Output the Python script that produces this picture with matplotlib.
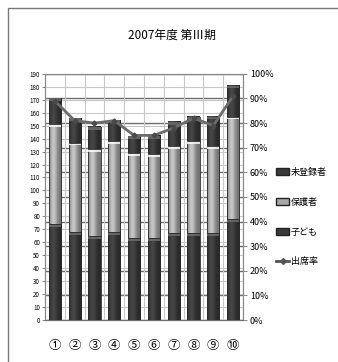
import numpy as np
import matplotlib.pyplot as plt
from matplotlib.patches import Patch, Rectangle
from matplotlib.lines import Line2D

plt.rcParams['font.family'] = ['Noto Sans CJK JP', 'DejaVu Sans']

# 各回の人数（人）と出席率
kai = ['①', '②', '③', '④', '⑤', '⑥', '⑦', '⑧', '⑨', '⑩']
kodomo = [74, 68, 65, 68, 63, 63, 67, 67, 67, 78]
hogosha = [77, 69, 67, 70, 66, 65, 67, 71, 67, 79]
mitouroku = [20, 19, 17, 16, 13, 14, 19, 19, 23, 24]
shusseki = [0.89, 0.81, 0.80, 0.81, 0.75, 0.75, 0.78, 0.82, 0.79, 0.91]

c_dark = np.array([0.21, 0.21, 0.21])
c_light = np.array([0.60, 0.60, 0.60])
w = 0.62

fig = plt.figure(figsize=(3.38, 3.62), dpi=100)
ax = fig.add_axes([0.133, 0.116, 0.586, 0.680])
ax2 = ax.twinx()

# 円柱っぽい陰影
prof = np.linspace(0, 1, 40)
shade = 0.75 + 0.55 * np.exp(-((prof - 0.35) / 0.3) ** 2)

def seg(x, bottom, h, base):
    img = np.clip(base[None, None, :] * shade[None, :, None], 0, 1)
    img = np.repeat(img, 2, axis=0)
    ax.imshow(img, extent=[x - w / 2, x + w / 2, bottom, bottom + h],
              aspect='auto', zorder=3, interpolation='bilinear')
    ax.add_patch(Rectangle((x - w / 2, bottom), w, h, fill=False,
                           edgecolor='#2a2a2a', lw=0.6, zorder=4))
    # 上端のハイライト
    cap = np.clip(base * 1.6 + 0.1, 0, 1)
    ax.add_patch(Rectangle((x - w / 2, bottom + h - 2.2), w, 2.2,
                           facecolor=cap, edgecolor='none', alpha=0.8, zorder=4))

x = np.arange(len(kai))
for i in range(len(kai)):
    seg(x[i], 0, kodomo[i], c_dark)
    seg(x[i], kodomo[i], hogosha[i], c_light)
    seg(x[i], kodomo[i] + hogosha[i], mitouroku[i], c_dark)

ax.set_xlim(-0.5, len(kai) - 0.5)
ax.set_ylim(0, 190)
ax.set_yticks(range(0, 191, 10))
ax.set_yticklabels([str(v) for v in range(0, 191, 10)], fontsize=4.5)
ax.set_xticks(x)
ax.set_xticklabels(kai, fontsize=9)
ax.tick_params(axis='x', length=0, pad=14)
ax.tick_params(axis='y', length=2.5, width=0.6, color='#777777', pad=1)
ax.set_xticks(np.arange(-0.5, len(kai), 1), minor=True)
ax.tick_params(axis='x', which='minor', length=0)
ax.grid(axis='y', color='#c8c8c8', lw=0.8, zorder=0)
ax.grid(axis='x', which='minor', color='#c8c8c8', lw=0.8, zorder=0)
ax.set_axisbelow(True)

ax2.set_ylim(0, 1)
ax2.set_yticks(np.arange(0, 1.01, 0.1))
ax2.set_yticklabels([f'{int(round(v * 100))}%' for v in np.arange(0, 1.01, 0.1)], fontsize=6.5)
ax2.tick_params(axis='y', length=3, width=0.6, color='#777777', pad=2)
ax2.grid(axis='y', color='#6e6e6e', lw=1.0)
ax.set_zorder(ax2.get_zorder() + 1)
ax.patch.set_visible(False)
ax2.set_zorder(0)

# 出席率の折れ線は棒の上に重ねる
ax3 = ax.twinx()
ax3.set_ylim(0, 1)
ax3.plot(x, shusseki, color='#6c6c6c', lw=2, marker='D', ms=2.5,
         mfc='#4a4a4a', mec='#4a4a4a')
ax3.axis('off')

for a in (ax, ax2):
    for s in a.spines.values():
        s.set_color('#8a8a8a')
        s.set_linewidth(0.8)
ax.spines['bottom'].set_color('#707070')

fig.text(0.51, 0.903, '2007年度 第Ⅲ期', ha='center', va='center', fontsize=8.5)

handles = [
    Patch(facecolor='#3a3a3a', edgecolor='#222222', label='未登録者'),
    Patch(facecolor='#a8a8a8', edgecolor='#222222', label='保護者'),
    Patch(facecolor='#3a3a3a', edgecolor='#222222', label='子ども'),
    Line2D([], [], color='#555555', lw=2, marker='D', ms=3, label='出席率'),
]
fig.legend(handles=handles, loc='center left', bbox_to_anchor=(0.818, 0.40),
           frameon=False, fontsize=6.5, labelspacing=2.3,
           handlelength=1.4, handleheight=0.8, handletextpad=0.2,
           borderpad=0, borderaxespad=0)

# 外枠
fig.patches.append(Rectangle((0.024, -0.1), 1.2, 1.078, transform=fig.transFigure,
                             fill=False, edgecolor='#7a7a7a', lw=1.0))

fig.savefig('out.png', dpi=100)
